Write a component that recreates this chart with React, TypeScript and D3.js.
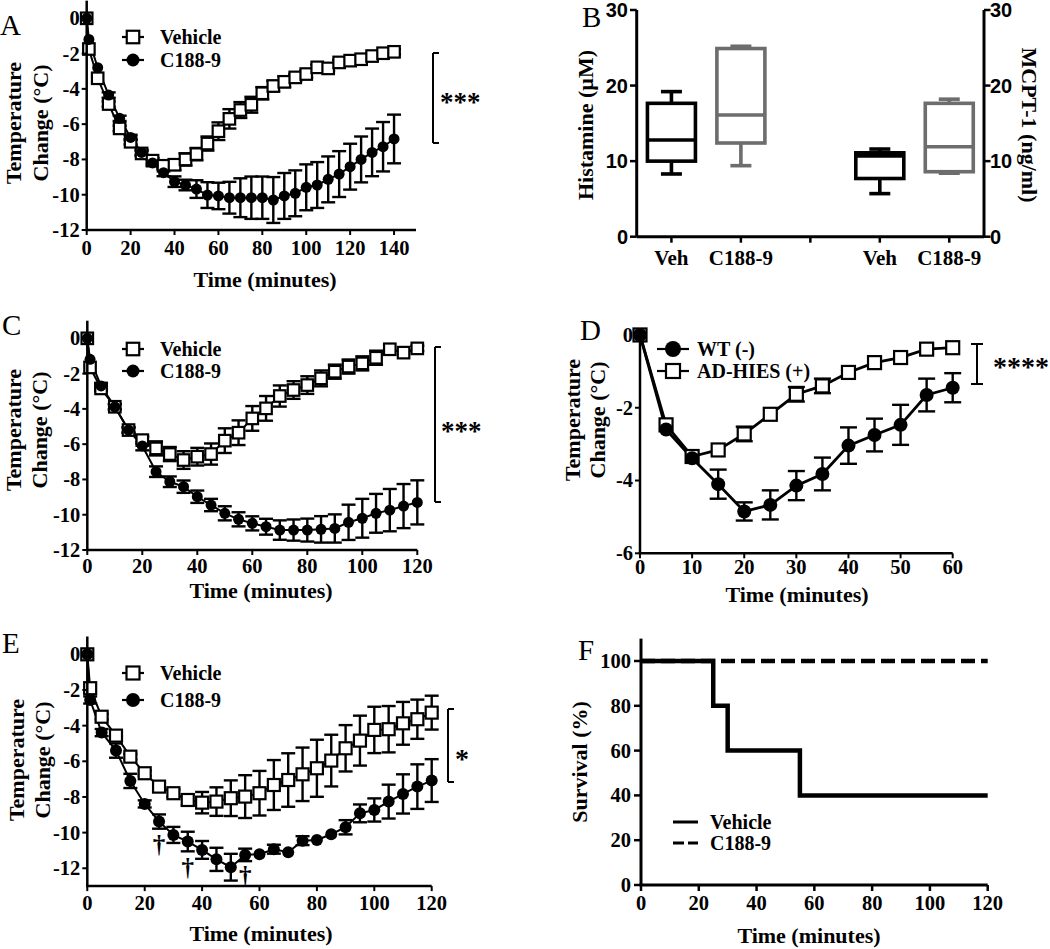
import React from 'react';
import * as d3 from 'd3';

const SERIF = '"Liberation Serif", "Times New Roman", Times, serif';
const SANS = '"Liberation Sans", Arial, Helvetica, sans-serif';

// ---------- Panel A ----------
const timesA = [0, 1, 5, 10, 15, 20, 25, 30, 35, 40, 45, 50, 55, 60, 65, 70, 75, 80, 85, 90, 95, 100, 105, 110, 115, 120, 125, 130, 135, 140];
const vehA = [0, -1.74, -3.4, -4.86, -6.24, -7.0, -7.66, -8.07, -8.36, -8.3, -8.0, -7.7, -7.1, -6.4, -5.7, -5.2, -4.9, -4.25, -3.84, -3.6, -3.35, -3.16, -2.78, -2.84, -2.5, -2.4, -2.32, -2.14, -1.98, -1.9];
const vehAErr = [0, 0.1, 0.1, 0.15, 0.15, 0.15, 0.15, 0.15, 0.2, 0.3, 0.35, 0.35, 0.4, 0.5, 0.55, 0.45, 0.45, 0.35, 0.3, 0.3, 0.2, 0.2, 0.15, 0.15, 0.15, 0.15, 0.15, 0.15, 0.15, 0.15];
const c188A = [0, -1.2, -2.8, -4.35, -5.67, -6.75, -7.6, -8.2, -8.75, -9.26, -9.45, -9.68, -10.02, -10.07, -10.17, -10.17, -10.17, -10.17, -10.3, -10.07, -9.92, -9.58, -9.45, -9.13, -8.83, -8.41, -8.0, -7.6, -7.28, -6.84];
const c188AErr = [0, 0.1, 0.1, 0.15, 0.15, 0.15, 0.15, 0.15, 0.2, 0.3, 0.3, 0.5, 0.73, 0.75, 0.9, 1.1, 1.2, 1.2, 1.3, 1.3, 1.3, 1.3, 1.3, 1.3, 1.3, 1.3, 1.3, 1.35, 1.4, 1.38];
const xTicksA = [0, 20, 40, 60, 80, 100, 120, 140];
const yTicksTemp12 = [0, -2, -4, -6, -8, -10, -12];

// ---------- Panel B ----------
const boxLabels = ['Veh', 'C188-9', 'Veh', 'C188-9'];
const boxPos = [1, 2, 4, 5];
const boxMin = [8.3, 9.4, 5.7, 8.4];
const boxQ1 = [10.0, 12.4, 7.7, 8.6];
const boxMed = [12.8, 16.1, 10.7, 11.9];
const boxQ3 = [17.65, 24.9, 11.1, 17.65];
const boxMax = [19.2, 25.2, 11.6, 18.2];
const boxColors = ['#000000', '#6d6d6d', '#000000', '#6d6d6d'];
const xTicksB = [1, 2, 3, 4, 5];
const yTicksB = [0, 10, 20, 30];

// ---------- Panel C ----------
const timesC = [0, 1, 5, 10, 15, 20, 25, 30, 35, 40, 45, 50, 55, 60, 65, 70, 75, 80, 85, 90, 95, 100, 105, 110, 115, 120];
const vehC = [0, -1.65, -2.84, -3.88, -5.2, -5.77, -6.24, -6.56, -6.9, -6.71, -6.56, -5.8, -5.35, -4.54, -3.97, -3.27, -2.93, -2.65, -2.27, -1.89, -1.6, -1.42, -1.1, -0.62, -0.81, -0.57];
const vehCErr = [0, 0.1, 0.15, 0.15, 0.15, 0.2, 0.4, 0.4, 0.5, 0.5, 0.6, 0.7, 0.7, 0.7, 0.7, 0.6, 0.5, 0.5, 0.45, 0.4, 0.4, 0.4, 0.4, 0.1, 0.1, 0.15];
const c188C = [0, -1.19, -2.7, -3.88, -5.2, -6.1, -7.56, -8.13, -8.41, -8.98, -9.45, -9.92, -10.26, -10.49, -10.68, -10.87, -10.87, -10.87, -10.83, -10.78, -10.43, -10.2, -9.92, -9.74, -9.51, -9.3];
const c188CErr = [0, 0.1, 0.15, 0.15, 0.15, 0.25, 0.3, 0.3, 0.35, 0.35, 0.35, 0.4, 0.4, 0.4, 0.45, 0.55, 0.6, 0.65, 0.75, 0.8, 1.0, 1.1, 1.1, 1.2, 1.25, 1.25];
const xTicks120 = [0, 20, 40, 60, 80, 100, 120];

// ---------- Panel D ----------
const timesD = [0, 5, 10, 15, 20, 25, 30, 35, 40, 45, 50, 55, 60];
const wtD = [0, -2.6, -3.39, -4.1, -4.85, -4.67, -4.14, -3.82, -3.04, -2.75, -2.47, -1.65, -1.45];
const wtDErr = [0, 0.1, 0.1, 0.4, 0.25, 0.4, 0.4, 0.45, 0.5, 0.45, 0.55, 0.45, 0.4];
const adD = [0, -2.47, -3.34, -3.16, -2.72, -2.18, -1.63, -1.4, -1.03, -0.76, -0.62, -0.39, -0.35];
const adDErr = [0, 0.1, 0.1, 0.05, 0.2, 0.05, 0.2, 0.2, 0.1, 0.05, 0.1, 0.05, 0.05];
const xTicksD = [0, 10, 20, 30, 40, 50, 60];
const yTicksD = [0, -2, -4, -6];

// ---------- Panel E ----------
const timesE = [0, 1, 5, 10, 15, 20, 25, 30, 35, 40, 45, 50, 55, 60, 65, 70, 75, 80, 85, 90, 95, 100, 105, 110, 115, 120];
const vehE = [0, -1.9, -3.5, -4.56, -5.74, -6.67, -7.42, -7.79, -8.17, -8.32, -8.26, -8.07, -7.98, -7.79, -7.33, -7.05, -6.73, -6.39, -5.96, -5.27, -4.84, -4.24, -4.2, -3.87, -3.64, -3.27];
const vehEErr = [0, 0.1, 0.15, 0.15, 0.15, 0.15, 0.2, 0.2, 0.3, 0.6, 0.8, 1.0, 1.2, 1.25, 1.4, 1.5, 1.5, 1.6, 1.45, 1.3, 1.4, 1.3, 1.3, 1.2, 1.1, 0.95];
const c188E = [0, -2.56, -4.39, -5.4, -7.1, -8.39, -9.38, -10.13, -10.5, -10.97, -11.5, -11.94, -11.25, -11.21, -10.93, -11.1, -10.45, -10.41, -10.09, -9.7, -8.92, -8.73, -8.26, -7.83, -7.42, -7.08];
const c188EErr = [0, 0.2, 0.2, 0.4, 0.4, 0.2, 0.4, 0.45, 0.55, 0.5, 0.65, 0.75, 0.35, 0.1, 0.25, 0.1, 0.25, 0.1, 0.1, 0.4, 0.5, 0.65, 0.95, 1.1, 1.25, 1.2];
const daggerTimes = [25, 35, 55];
const daggerY = [-10.73, -12.04, -12.47];

// ---------- Panel F ----------
const survTimesVeh = [0, 25, 30, 55, 120];
const survVeh = [100, 80, 60, 40, 40];
const survTimesC188 = [0, 120];
const survC188 = [100, 100];
const xTicksF = [0, 20, 40, 60, 80, 100, 120];
const yTicksF = [0, 20, 40, 60, 80, 100];

const TICK_FS = 20.5;
const TITLE_FS = 22;
const LEG_FS = 20;

type Shape = 'square' | 'circle';
interface SeriesDef { t: number[]; v: number[]; e: number[]; shape: Shape; }

interface TempPanelProps {
  xDomain: [number, number]; xRange: [number, number];
  yDomain: [number, number]; yRange: [number, number];
  xTicks: number[]; yTicks: number[];
  series: SeriesDef[];
  sq: number; cr: number; cap: number; lineW: number; axisW: number;
  legend: { label: string; shape: Shape }[]; legendX: number; legendY: number; legendGap: number; lineHalf: number; textDx: number;
  xLabelDy: number;
  xTitleX: number; xTitleY: number; yTitleX1: number; yTitleX2: number; yTitleCy: number;
  bracket: { x: number; y1: number; y2: number; both?: boolean; text: string; tx: number; ty: number; fs: number };
  letter: string; lx: number; ly: number;
  children?: React.ReactNode;
}

function Marker({ shape, x, y, sq, cr }: { shape: Shape; x: number; y: number; sq: number; cr: number }) {
  if (shape === 'square') {
    return <rect x={x - sq / 2} y={y - sq / 2} width={sq} height={sq} fill="#fff" stroke="#000" strokeWidth={2.2} />;
  }
  return <circle cx={x} cy={y} r={cr} fill="#000" />;
}

function TempPanel(p: TempPanelProps) {
  const x = d3.scaleLinear().domain(p.xDomain).range(p.xRange);
  const y = d3.scaleLinear().domain(p.yDomain).range(p.yRange);
  const ax = p.xRange[0];
  const ay = p.yRange[0];
  const line = d3.line<[number, number]>().x(d => x(d[0])).y(d => y(d[1]));
  const order = [...p.series].sort((a, b) => (a.shape === b.shape ? 0 : a.shape === 'square' ? -1 : 1));
  return (
    <g>
      {p.series.map((s, si) => (
        <g key={'e' + si} stroke="#000" strokeWidth={2.4}>
          {s.t.map((t, i) => s.e[i] > 0.12 ? (
            <g key={i}>
              <line x1={x(t)} x2={x(t)} y1={y(s.v[i] - s.e[i])} y2={y(s.v[i] + s.e[i])} />
              <line x1={x(t) - p.cap / 2} x2={x(t) + p.cap / 2} y1={y(s.v[i] - s.e[i])} y2={y(s.v[i] - s.e[i])} />
              <line x1={x(t) - p.cap / 2} x2={x(t) + p.cap / 2} y1={y(s.v[i] + s.e[i])} y2={y(s.v[i] + s.e[i])} />
            </g>
          ) : null)}
        </g>
      ))}
      {p.series.map((s, si) => (
        <path key={'l' + si} d={line(s.t.map((t, i) => [t, s.v[i]] as [number, number])) || ''} fill="none" stroke="#000" strokeWidth={p.lineW} />
      ))}
      {order.map((s, si) => (
        <g key={'m' + si}>
          {s.t.map((t, i) => <Marker key={i} shape={s.shape} x={x(t)} y={y(s.v[i])} sq={p.sq} cr={p.cr} />)}
        </g>
      ))}
      {p.children ? p.children : null}
      <line x1={ax} x2={ax} y1={p.yRange[1]} y2={ay} stroke="#000" strokeWidth={p.axisW} />
      <line x1={ax - p.axisW / 2} x2={p.xRange[1]} y1={ay} y2={ay} stroke="#000" strokeWidth={p.axisW} />
      {p.yTicks.map(v => (
        <g key={'yt' + v}>
          <line x1={ax - 5} x2={ax} y1={y(v)} y2={y(v)} stroke="#000" strokeWidth={2} />
          <text x={ax - 7} y={y(v)} dy="0.34em" textAnchor="end" fontFamily={SERIF} fontWeight="bold" fontSize={TICK_FS}>{v}</text>
        </g>
      ))}
      {p.xTicks.map(v => (
        <g key={'xt' + v}>
          <line x1={x(v)} x2={x(v)} y1={ay} y2={ay + 5} stroke="#000" strokeWidth={2} />
          <text x={x(v)} y={ay + p.xLabelDy} textAnchor="middle" fontFamily={SERIF} fontWeight="bold" fontSize={TICK_FS}>{v}</text>
        </g>
      ))}
      <text x={p.xTitleX} y={p.xTitleY} textAnchor="middle" fontFamily={SERIF} fontWeight="bold" fontSize={TITLE_FS}>Time (minutes)</text>
      <text transform={`translate(${p.yTitleX1},${p.yTitleCy}) rotate(-90)`} textAnchor="middle" fontFamily={SERIF} fontWeight="bold" fontSize={TITLE_FS}>Temperature</text>
      <text transform={`translate(${p.yTitleX2},${p.yTitleCy}) rotate(-90)`} textAnchor="middle" fontFamily={SERIF} fontWeight="bold" fontSize={TITLE_FS}>Change (°C)</text>
      {p.legend.map((l, i) => {
        const ly = p.legendY + i * p.legendGap;
        return (
          <g key={'lg' + i}>
            <line x1={p.legendX - p.lineHalf} x2={p.legendX + p.lineHalf} y1={ly} y2={ly} stroke="#000" strokeWidth={2.2} />
            <Marker shape={l.shape} x={p.legendX} y={ly} sq={p.sq + 1} cr={p.cr + 1} />
            <text x={p.legendX + p.textDx} y={ly} dy="0.34em" fontFamily={SERIF} fontWeight="bold" fontSize={LEG_FS}>{l.label}</text>
          </g>
        );
      })}
      <g stroke="#000" strokeWidth={2}>
        <line x1={p.bracket.x} x2={p.bracket.x} y1={p.bracket.y1} y2={p.bracket.y2} />
        <line x1={p.bracket.both ? p.bracket.x - 6 : p.bracket.x} x2={p.bracket.x + 6} y1={p.bracket.y1} y2={p.bracket.y1} />
        <line x1={p.bracket.both ? p.bracket.x - 6 : p.bracket.x} x2={p.bracket.x + 6} y1={p.bracket.y2} y2={p.bracket.y2} />
      </g>
      <text x={p.bracket.tx} y={p.bracket.ty} fontFamily={SERIF} fontWeight="bold" fontSize={p.bracket.fs}>{p.bracket.text}</text>
      <text x={p.lx} y={p.ly} fontFamily={SERIF} fontSize={29}>{p.letter}</text>
    </g>
  );
}

function PanelB() {
  const x = d3.scaleLinear().domain([0.5, 5.5]).range([636.7, 984]);
  const y = d3.scaleLinear().domain([0, 30]).range([236.7, 10]);
  const half = 24;
  const capHalf = 10.5;
  const sw = 3.6;
  return (
    <g>
      {boxPos.map((pos, i) => {
        const cx = x(pos);
        const c = boxColors[i];
        return (
          <g key={i} stroke={c} strokeWidth={sw} fill="none">
            <line x1={cx} x2={cx} y1={y(boxQ3[i])} y2={y(boxMax[i])} />
            <line x1={cx} x2={cx} y1={y(boxQ1[i])} y2={y(boxMin[i])} />
            <line x1={cx - capHalf} x2={cx + capHalf} y1={y(boxMax[i])} y2={y(boxMax[i])} />
            <line x1={cx - capHalf} x2={cx + capHalf} y1={y(boxMin[i])} y2={y(boxMin[i])} />
            <rect x={cx - half} y={y(boxQ3[i])} width={2 * half} height={y(boxQ1[i]) - y(boxQ3[i])} fill="#fff" />
            <line x1={cx - half} x2={cx + half} y1={y(boxMed[i])} y2={y(boxMed[i])} />
          </g>
        );
      })}
      <line x1={636.7} x2={636.7} y1={y(30)} y2={y(0)} stroke="#000" strokeWidth={3} />
      <line x1={984} x2={984} y1={y(30)} y2={y(0)} stroke="#000" strokeWidth={3} />
      <line x1={636.7} x2={984} y1={y(0)} y2={y(0)} stroke="#000" strokeWidth={3} />
      {yTicksB.map(v => (
        <g key={v}>
          <line x1={630} x2={636.7} y1={y(v)} y2={y(v)} stroke="#000" strokeWidth={2.5} />
          <line x1={984} x2={990.5} y1={y(v)} y2={y(v)} stroke="#000" strokeWidth={2.5} />
          <text x={628} y={y(v)} dy="0.36em" textAnchor="end" fontFamily={SANS} fontWeight="bold" fontSize={20}>{v}</text>
          <text x={990} y={y(v)} dy="0.36em" textAnchor="start" fontFamily={SANS} fontWeight="bold" fontSize={20}>{v}</text>
        </g>
      ))}
      {xTicksB.map(v => (
        <line key={v} x1={x(v)} x2={x(v)} y1={y(0)} y2={y(0) + 6} stroke="#000" strokeWidth={2.5} />
      ))}
      {boxPos.map((pos, i) => (
        <text key={i} x={x(pos)} y={265} textAnchor="middle" fontFamily={SERIF} fontWeight="bold" fontSize={21}>{boxLabels[i]}</text>
      ))}
      <text transform="translate(593,125) rotate(-90)" textAnchor="middle" fontFamily={SERIF} fontWeight="bold" fontSize={TITLE_FS}>Histamine (µM)</text>
      <text transform="translate(1022,125) rotate(90)" textAnchor="middle" fontFamily={SERIF} fontWeight="bold" fontSize={TITLE_FS}>MCPT-1 (ng/ml)</text>
      <text x={582} y={27} fontFamily={SERIF} fontSize={29}>B</text>
    </g>
  );
}

function PanelF() {
  const x = d3.scaleLinear().domain([0, 120]).range([641, 987.7]);
  const y = d3.scaleLinear().domain([0, 110]).range([885, 638.6]);
  const step = d3.line<[number, number]>().x(d => x(d[0])).y(d => y(d[1])).curve(d3.curveStepAfter);
  const vehPts = survTimesVeh.map((t, i) => [t, survVeh[i]] as [number, number]);
  const cPts = survTimesC188.map((t, i) => [t, survC188[i]] as [number, number]);
  return (
    <g>
      <path d={step(vehPts) || ''} fill="none" stroke="#000" strokeWidth={4.5} />
      <path d={step(cPts) || ''} fill="none" stroke="#000" strokeWidth={4.5} strokeDasharray="14 6" />
      <line x1={641} x2={641} y1={638.6} y2={885} stroke="#000" strokeWidth={3} />
      <line x1={639.5} x2={987.7} y1={885} y2={885} stroke="#000" strokeWidth={3} />
      {yTicksF.map(v => (
        <g key={v}>
          <line x1={634} x2={641} y1={y(v)} y2={y(v)} stroke="#000" strokeWidth={2.5} />
          <text x={631} y={y(v)} dy="0.34em" textAnchor="end" fontFamily={SERIF} fontWeight="bold" fontSize={TICK_FS}>{v}</text>
        </g>
      ))}
      {xTicksF.map(v => (
        <g key={v}>
          <line x1={x(v)} x2={x(v)} y1={885} y2={891} stroke="#000" strokeWidth={2.5} />
          <text x={x(v)} y={910} textAnchor="middle" fontFamily={SERIF} fontWeight="bold" fontSize={TICK_FS}>{v}</text>
        </g>
      ))}
      <text x={809} y={943} textAnchor="middle" fontFamily={SERIF} fontWeight="bold" fontSize={TITLE_FS}>Time (minutes)</text>
      <text transform="translate(587,762) rotate(-90)" textAnchor="middle" fontFamily={SERIF} fontWeight="bold" fontSize={TITLE_FS}>Survival (%)</text>
      <line x1={673} x2={698} y1={822} y2={822} stroke="#000" strokeWidth={3} />
      <line x1={673} x2={698} y1={843} y2={843} stroke="#000" strokeWidth={3} strokeDasharray="11 4" />
      <text x={710} y={822} dy="0.34em" fontFamily={SERIF} fontWeight="bold" fontSize={LEG_FS}>Vehicle</text>
      <text x={710} y={843} dy="0.34em" fontFamily={SERIF} fontWeight="bold" fontSize={LEG_FS}>C188-9</text>
      <text x={578} y={660} fontFamily={SERIF} fontSize={29}>F</text>
    </g>
  );
}

function Daggers() {
  const x = d3.scaleLinear().domain([0, 120]).range([87.3, 431.7]);
  const y = d3.scaleLinear().domain([-13, 1]).range([886.1, 636.5]);
  return (
    <g>
      {daggerTimes.map((t, i) => (
        <text key={i} x={x(t)} y={y(daggerY[i]) + 7} textAnchor="middle" fontFamily={SERIF} fontWeight="bold" fontSize={25}>†</text>
      ))}
    </g>
  );
}

export default function App() {
  const vcLegend = [{ label: 'Vehicle', shape: 'square' as Shape }, { label: 'C188-9', shape: 'circle' as Shape }];
  return (
    <svg width={1050} height={949} viewBox="0 0 1050 949" style={{ position: 'absolute', left: 0, top: 0, background: '#fff' }}>
      <rect x={0} y={0} width={1050} height={949} fill="#fff" />
      <TempPanel
        xDomain={[0, 150]} xRange={[86.7, 416]} yDomain={[-12, 1]} yRange={[230, 0.66]}
        xTicks={xTicksA} yTicks={yTicksTemp12}
        series={[{ t: timesA, v: vehA, e: vehAErr, shape: 'square' }, { t: timesA, v: c188A, e: c188AErr, shape: 'circle' }]}
        sq={11.5} cr={5.5} cap={14} lineW={2} axisW={2.5}
        legend={vcLegend} legendX={133} legendY={37} legendGap={23} lineHalf={11} textDx={27}
        xLabelDy={25}
        xTitleX={265} xTitleY={287} yTitleX1={21} yTitleX2={48} yTitleCy={123}
        bracket={{ x: 433, y1: 53, y2: 143, text: '***', tx: 440, ty: 111, fs: 27 }}
        letter="A" lx={0} ly={35}
      />
      <PanelB />
      <TempPanel
        xDomain={[0, 120]} xRange={[87.3, 417.3]} yDomain={[-12, 1]} yRange={[550, 320.7]}
        xTicks={xTicks120} yTicks={yTicksTemp12}
        series={[{ t: timesC, v: vehC, e: vehCErr, shape: 'square' }, { t: timesC, v: c188C, e: c188CErr, shape: 'circle' }]}
        sq={11.5} cr={5.5} cap={14} lineW={2} axisW={2.5}
        legend={vcLegend} legendX={133} legendY={349} legendGap={22} lineHalf={11} textDx={27}
        xLabelDy={23}
        xTitleX={261} xTitleY={598} yTitleX1={21} yTitleX2={47} yTitleCy={430}
        bracket={{ x: 435, y1: 347, y2: 502, text: '***', tx: 441, ty: 440, fs: 27 }}
        letter="C" lx={2} ly={335}
      />
      <TempPanel
        xDomain={[0, 60]} xRange={[640, 952.7]} yDomain={[-6, 0.15]} yRange={[553.3, 329.5]}
        xTicks={xTicksD} yTicks={yTicksD}
        series={[{ t: timesD, v: wtD, e: wtDErr, shape: 'circle' }, { t: timesD, v: adD, e: adDErr, shape: 'square' }]}
        sq={13} cr={7} cap={17} lineW={2.8} axisW={2.5}
        legend={[{ label: 'WT (-)', shape: 'circle' }, { label: 'AD-HIES (+)', shape: 'square' }]}
        legendX={673} legendY={349} legendGap={22} lineHalf={16} textDx={24}
        xLabelDy={21}
        xTitleX={797} xTitleY={602} yTitleX1={580} yTitleX2={605} yTitleCy={420}
        bracket={{ x: 977, y1: 344, y2: 384, both: true, text: '****', tx: 993, ty: 376, fs: 28 }}
        letter="D" lx={580} ly={340}
      />
      <TempPanel
        xDomain={[0, 120]} xRange={[87.3, 431.7]} yDomain={[-13, 1]} yRange={[886.1, 636.5]}
        xTicks={xTicks120} yTicks={yTicksTemp12}
        series={[{ t: timesE, v: vehE, e: vehEErr, shape: 'square' }, { t: timesE, v: c188E, e: c188EErr, shape: 'circle' }]}
        sq={12} cr={6} cap={14} lineW={2} axisW={2.5}
        legend={vcLegend} legendX={133} legendY={673} legendGap={27} lineHalf={11} textDx={27}
        xLabelDy={24}
        xTitleX={261} xTitleY={941} yTitleX1={24} yTitleX2={50} yTitleCy={760}
        bracket={{ x: 448, y1: 709, y2: 782, text: '*', tx: 455, ty: 768, fs: 28 }}
        letter="E" lx={2} ly={653}
      >
        <Daggers />
      </TempPanel>
      <PanelF />
    </svg>
  );
}
